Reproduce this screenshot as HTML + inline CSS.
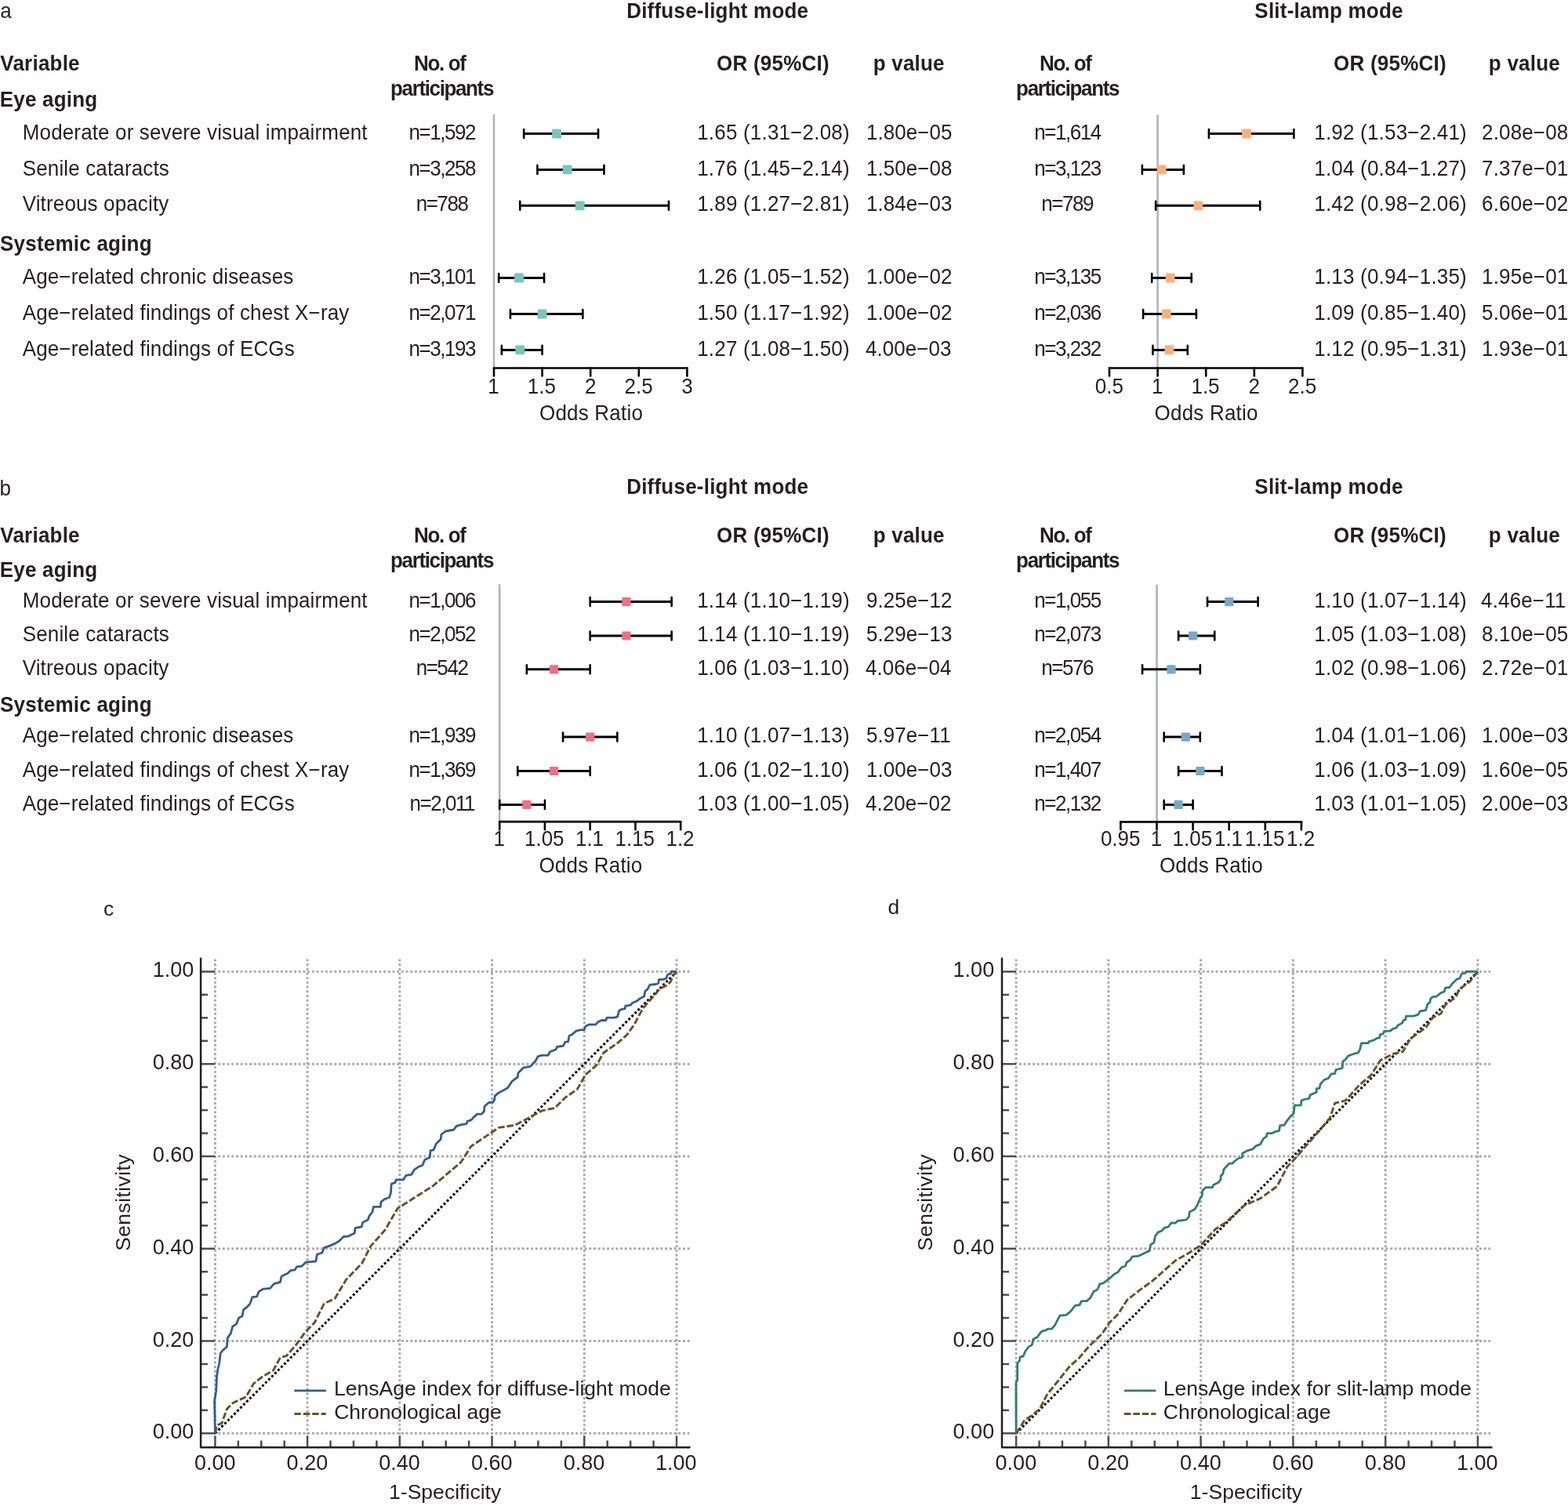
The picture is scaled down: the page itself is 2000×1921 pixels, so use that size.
<!DOCTYPE html>
<html><head><meta charset="utf-8"><title>Figure</title>
<style>html,body{margin:0;padding:0;background:#fff;}svg{display:block;}text{font-family:"Liberation Sans", Arial, Helvetica, sans-serif;fill:#231f20;}</style>
</head><body>
<svg width="2000" height="1921" viewBox="0 0 2000 1921">
<rect width="2000" height="1921" fill="#fff"/>
<text transform="translate(0.24,23.40) scale(0.9630,1)" font-size="27">a</text>
<text transform="translate(799.17,23.00) scale(0.9630,1)" font-size="27" font-weight="bold" letter-spacing="0.228">Diffuse-light mode</text>
<text transform="translate(1600.34,23.00) scale(0.9630,1)" font-size="27" font-weight="bold" letter-spacing="0.228">Slit-lamp mode</text>
<text transform="translate(0.30,90.00) scale(0.9630,1)" font-size="27" font-weight="bold" letter-spacing="0.228">Variable</text>
<text transform="translate(528.12,90.00) scale(0.9630,1)" font-size="27" font-weight="bold" letter-spacing="-1.438">No. of</text>
<text transform="translate(1326.12,90.00) scale(0.9630,1)" font-size="27" font-weight="bold" letter-spacing="-1.438">No. of</text>
<text transform="translate(498.07,121.70) scale(0.9630,1)" font-size="27" font-weight="bold" letter-spacing="-1.420">participants</text>
<text transform="translate(1296.12,121.70) scale(0.9630,1)" font-size="27" font-weight="bold" letter-spacing="-1.420">participants</text>
<text transform="translate(914.04,90.00) scale(0.9630,1)" font-size="27" font-weight="bold" letter-spacing="0.228">OR (95%CI)</text>
<text transform="translate(1113.67,90.00) scale(0.9630,1)" font-size="27" font-weight="bold" letter-spacing="0.228">p value</text>
<text transform="translate(1701.04,90.00) scale(0.9630,1)" font-size="27" font-weight="bold" letter-spacing="0.228">OR (95%CI)</text>
<text transform="translate(1898.87,90.00) scale(0.9630,1)" font-size="27" font-weight="bold" letter-spacing="0.228">p value</text>
<text transform="translate(-0.33,135.90) scale(0.9630,1)" font-size="27" font-weight="bold" letter-spacing="0.228">Eye aging</text>
<text transform="translate(0.04,320.10) scale(0.9630,1)" font-size="27" font-weight="bold" letter-spacing="0.228">Systemic aging</text>
<text transform="translate(28.77,177.60) scale(0.9630,1)" font-size="27" letter-spacing="0.145">Moderate or severe visual impairment</text>
<text transform="translate(521.48,177.60) scale(0.9630,1)" font-size="27" letter-spacing="-1.506">n=1,592</text>
<text transform="translate(1319.18,177.60) scale(0.9630,1)" font-size="27" letter-spacing="-1.506">n=1,614</text>
<text transform="translate(889.17,177.60) scale(0.9630,1)" font-size="27" letter-spacing="0.208">1.65 (1.31−2.08)</text>
<text transform="translate(1676.27,177.60) scale(0.9630,1)" font-size="27" letter-spacing="0.208">1.92 (1.53−2.41)</text>
<text transform="translate(1105.07,177.60) scale(0.9630,1)" font-size="27" letter-spacing="0.052">1.80e−05</text>
<text transform="translate(1890.04,177.60) scale(0.9630,1)" font-size="27" letter-spacing="0.156">2.08e−08</text>
<text transform="translate(28.74,223.50) scale(0.9630,1)" font-size="27" letter-spacing="0.145">Senile cataracts</text>
<text transform="translate(521.48,223.50) scale(0.9630,1)" font-size="27" letter-spacing="-1.506">n=3,258</text>
<text transform="translate(1319.18,223.50) scale(0.9630,1)" font-size="27" letter-spacing="-1.506">n=3,123</text>
<text transform="translate(889.17,223.50) scale(0.9630,1)" font-size="27" letter-spacing="0.208">1.76 (1.45−2.14)</text>
<text transform="translate(1676.27,223.50) scale(0.9630,1)" font-size="27" letter-spacing="0.208">1.04 (0.84−1.27)</text>
<text transform="translate(1105.07,223.50) scale(0.9630,1)" font-size="27" letter-spacing="0.052">1.50e−08</text>
<text transform="translate(1890.04,223.50) scale(0.9630,1)" font-size="27" letter-spacing="0.156">7.37e−01</text>
<text transform="translate(28.70,269.40) scale(0.9630,1)" font-size="27" letter-spacing="0.145">Vitreous opacity</text>
<text transform="translate(530.63,269.40) scale(0.9630,1)" font-size="27" letter-spacing="-1.506">n=788</text>
<text transform="translate(1328.33,269.40) scale(0.9630,1)" font-size="27" letter-spacing="-1.506">n=789</text>
<text transform="translate(889.17,269.40) scale(0.9630,1)" font-size="27" letter-spacing="0.208">1.89 (1.27−2.81)</text>
<text transform="translate(1676.27,269.40) scale(0.9630,1)" font-size="27" letter-spacing="0.208">1.42 (0.98−2.06)</text>
<text transform="translate(1105.07,269.40) scale(0.9630,1)" font-size="27" letter-spacing="0.052">1.84e−03</text>
<text transform="translate(1890.04,269.40) scale(0.9630,1)" font-size="27" letter-spacing="0.156">6.60e−02</text>
<text transform="translate(28.70,361.60) scale(0.9630,1)" font-size="27" letter-spacing="0.145">Age−related chronic diseases</text>
<text transform="translate(521.48,361.60) scale(0.9630,1)" font-size="27" letter-spacing="-1.506">n=3,101</text>
<text transform="translate(1319.18,361.60) scale(0.9630,1)" font-size="27" letter-spacing="-1.506">n=3,135</text>
<text transform="translate(889.17,361.60) scale(0.9630,1)" font-size="27" letter-spacing="0.208">1.26 (1.05−1.52)</text>
<text transform="translate(1676.27,361.60) scale(0.9630,1)" font-size="27" letter-spacing="0.208">1.13 (0.94−1.35)</text>
<text transform="translate(1105.07,361.60) scale(0.9630,1)" font-size="27" letter-spacing="0.052">1.00e−02</text>
<text transform="translate(1890.07,361.60) scale(0.9630,1)" font-size="27" letter-spacing="0.156">1.95e−01</text>
<text transform="translate(28.70,407.60) scale(0.9630,1)" font-size="27" letter-spacing="0.145">Age−related findings of chest X−ray</text>
<text transform="translate(521.48,407.60) scale(0.9630,1)" font-size="27" letter-spacing="-1.506">n=2,071</text>
<text transform="translate(1319.18,407.60) scale(0.9630,1)" font-size="27" letter-spacing="-1.506">n=2,036</text>
<text transform="translate(889.17,407.60) scale(0.9630,1)" font-size="27" letter-spacing="0.208">1.50 (1.17−1.92)</text>
<text transform="translate(1676.27,407.60) scale(0.9630,1)" font-size="27" letter-spacing="0.208">1.09 (0.85−1.40)</text>
<text transform="translate(1105.07,407.60) scale(0.9630,1)" font-size="27" letter-spacing="0.052">1.00e−02</text>
<text transform="translate(1890.04,407.60) scale(0.9630,1)" font-size="27" letter-spacing="0.156">5.06e−01</text>
<text transform="translate(28.70,453.50) scale(0.9630,1)" font-size="27" letter-spacing="0.145">Age−related findings of ECGs</text>
<text transform="translate(521.48,453.50) scale(0.9630,1)" font-size="27" letter-spacing="-1.506">n=3,193</text>
<text transform="translate(1319.18,453.50) scale(0.9630,1)" font-size="27" letter-spacing="-1.506">n=3,232</text>
<text transform="translate(889.17,453.50) scale(0.9630,1)" font-size="27" letter-spacing="0.208">1.27 (1.08−1.50)</text>
<text transform="translate(1676.27,453.50) scale(0.9630,1)" font-size="27" letter-spacing="0.208">1.12 (0.95−1.31)</text>
<text transform="translate(1104.04,453.50) scale(0.9630,1)" font-size="27" letter-spacing="0.052">4.00e−03</text>
<text transform="translate(1890.07,453.50) scale(0.9630,1)" font-size="27" letter-spacing="0.156">1.93e−01</text>
<line x1="630.00" y1="146.10" x2="630.00" y2="468.30" stroke="#b1b3b6" stroke-width="2.6" stroke-linecap="butt"/>
<line x1="630.00" y1="469.50" x2="876.40" y2="469.50" stroke="#000" stroke-width="2.7" stroke-linecap="round"/>
<line x1="630.00" y1="469.50" x2="630.00" y2="479.50" stroke="#000" stroke-width="2.6" stroke-linecap="round"/>
<text transform="translate(622.30,501.90) scale(0.9630,1)" font-size="27">1</text>
<line x1="691.60" y1="469.50" x2="691.60" y2="479.50" stroke="#000" stroke-width="2.6" stroke-linecap="round"/>
<text transform="translate(672.82,501.90) scale(0.9630,1)" font-size="27">1.5</text>
<line x1="753.20" y1="469.50" x2="753.20" y2="479.50" stroke="#000" stroke-width="2.6" stroke-linecap="round"/>
<text transform="translate(745.98,501.90) scale(0.9630,1)" font-size="27">2</text>
<line x1="814.80" y1="469.50" x2="814.80" y2="479.50" stroke="#000" stroke-width="2.6" stroke-linecap="round"/>
<text transform="translate(796.50,501.90) scale(0.9630,1)" font-size="27">2.5</text>
<line x1="876.40" y1="469.50" x2="876.40" y2="479.50" stroke="#000" stroke-width="2.6" stroke-linecap="round"/>
<text transform="translate(869.18,501.90) scale(0.9630,1)" font-size="27">3</text>
<text transform="translate(688.00,536.10) scale(0.9630,1)" font-size="27" letter-spacing="0.208">Odds Ratio</text>
<line x1="668.19" y1="170.50" x2="763.06" y2="170.50" stroke="#000" stroke-width="3" stroke-linecap="butt"/>
<line x1="668.19" y1="165.00" x2="668.19" y2="176.00" stroke="#000" stroke-width="2.6" stroke-linecap="round"/>
<line x1="763.06" y1="165.00" x2="763.06" y2="176.00" stroke="#000" stroke-width="2.6" stroke-linecap="round"/>
<rect x="704.18" y="164.60" width="11.8" height="11.8" rx="1.2" fill="#79c6c0"/>
<line x1="685.44" y1="216.40" x2="770.45" y2="216.40" stroke="#000" stroke-width="3" stroke-linecap="butt"/>
<line x1="685.44" y1="210.90" x2="685.44" y2="221.90" stroke="#000" stroke-width="2.6" stroke-linecap="round"/>
<line x1="770.45" y1="210.90" x2="770.45" y2="221.90" stroke="#000" stroke-width="2.6" stroke-linecap="round"/>
<rect x="717.73" y="210.50" width="11.8" height="11.8" rx="1.2" fill="#79c6c0"/>
<line x1="663.26" y1="262.30" x2="852.99" y2="262.30" stroke="#000" stroke-width="3" stroke-linecap="butt"/>
<line x1="663.26" y1="256.80" x2="663.26" y2="267.80" stroke="#000" stroke-width="2.6" stroke-linecap="round"/>
<line x1="852.99" y1="256.80" x2="852.99" y2="267.80" stroke="#000" stroke-width="2.6" stroke-linecap="round"/>
<rect x="733.75" y="256.40" width="11.8" height="11.8" rx="1.2" fill="#79c6c0"/>
<line x1="636.16" y1="354.50" x2="694.06" y2="354.50" stroke="#000" stroke-width="3" stroke-linecap="butt"/>
<line x1="636.16" y1="349.00" x2="636.16" y2="360.00" stroke="#000" stroke-width="2.6" stroke-linecap="round"/>
<line x1="694.06" y1="349.00" x2="694.06" y2="360.00" stroke="#000" stroke-width="2.6" stroke-linecap="round"/>
<rect x="656.13" y="348.60" width="11.8" height="11.8" rx="1.2" fill="#79c6c0"/>
<line x1="650.94" y1="400.50" x2="743.34" y2="400.50" stroke="#000" stroke-width="3" stroke-linecap="butt"/>
<line x1="650.94" y1="395.00" x2="650.94" y2="406.00" stroke="#000" stroke-width="2.6" stroke-linecap="round"/>
<line x1="743.34" y1="395.00" x2="743.34" y2="406.00" stroke="#000" stroke-width="2.6" stroke-linecap="round"/>
<rect x="685.70" y="394.60" width="11.8" height="11.8" rx="1.2" fill="#79c6c0"/>
<line x1="639.86" y1="446.40" x2="691.60" y2="446.40" stroke="#000" stroke-width="3" stroke-linecap="butt"/>
<line x1="639.86" y1="440.90" x2="639.86" y2="451.90" stroke="#000" stroke-width="2.6" stroke-linecap="round"/>
<line x1="691.60" y1="440.90" x2="691.60" y2="451.90" stroke="#000" stroke-width="2.6" stroke-linecap="round"/>
<rect x="657.36" y="440.50" width="11.8" height="11.8" rx="1.2" fill="#79c6c0"/>
<line x1="1476.60" y1="146.30" x2="1476.60" y2="468.30" stroke="#b1b3b6" stroke-width="2.6" stroke-linecap="butt"/>
<line x1="1415.00" y1="469.50" x2="1661.40" y2="469.50" stroke="#000" stroke-width="2.7" stroke-linecap="round"/>
<line x1="1415.00" y1="469.50" x2="1415.00" y2="479.50" stroke="#000" stroke-width="2.6" stroke-linecap="round"/>
<text transform="translate(1396.70,501.80) scale(0.9630,1)" font-size="27">0.5</text>
<line x1="1476.60" y1="469.50" x2="1476.60" y2="479.50" stroke="#000" stroke-width="2.6" stroke-linecap="round"/>
<text transform="translate(1468.90,501.80) scale(0.9630,1)" font-size="27">1</text>
<line x1="1538.20" y1="469.50" x2="1538.20" y2="479.50" stroke="#000" stroke-width="2.6" stroke-linecap="round"/>
<text transform="translate(1519.42,501.80) scale(0.9630,1)" font-size="27">1.5</text>
<line x1="1599.80" y1="469.50" x2="1599.80" y2="479.50" stroke="#000" stroke-width="2.6" stroke-linecap="round"/>
<text transform="translate(1592.58,501.80) scale(0.9630,1)" font-size="27">2</text>
<line x1="1661.40" y1="469.50" x2="1661.40" y2="479.50" stroke="#000" stroke-width="2.6" stroke-linecap="round"/>
<text transform="translate(1643.10,501.80) scale(0.9630,1)" font-size="27">2.5</text>
<text transform="translate(1472.60,536.10) scale(0.9630,1)" font-size="27" letter-spacing="0.208">Odds Ratio</text>
<line x1="1541.90" y1="170.50" x2="1650.31" y2="170.50" stroke="#000" stroke-width="3" stroke-linecap="butt"/>
<line x1="1541.90" y1="165.00" x2="1541.90" y2="176.00" stroke="#000" stroke-width="2.6" stroke-linecap="round"/>
<line x1="1650.31" y1="165.00" x2="1650.31" y2="176.00" stroke="#000" stroke-width="2.6" stroke-linecap="round"/>
<rect x="1584.04" y="164.60" width="11.8" height="11.8" rx="1.2" fill="#f9b07b"/>
<line x1="1456.89" y1="216.40" x2="1509.86" y2="216.40" stroke="#000" stroke-width="3" stroke-linecap="butt"/>
<line x1="1456.89" y1="210.90" x2="1456.89" y2="221.90" stroke="#000" stroke-width="2.6" stroke-linecap="round"/>
<line x1="1509.86" y1="210.90" x2="1509.86" y2="221.90" stroke="#000" stroke-width="2.6" stroke-linecap="round"/>
<rect x="1475.63" y="210.50" width="11.8" height="11.8" rx="1.2" fill="#f9b07b"/>
<line x1="1474.14" y1="262.30" x2="1607.19" y2="262.30" stroke="#000" stroke-width="3" stroke-linecap="butt"/>
<line x1="1474.14" y1="256.80" x2="1474.14" y2="267.80" stroke="#000" stroke-width="2.6" stroke-linecap="round"/>
<line x1="1607.19" y1="256.80" x2="1607.19" y2="267.80" stroke="#000" stroke-width="2.6" stroke-linecap="round"/>
<rect x="1522.44" y="256.40" width="11.8" height="11.8" rx="1.2" fill="#f9b07b"/>
<line x1="1469.21" y1="354.50" x2="1519.72" y2="354.50" stroke="#000" stroke-width="3" stroke-linecap="butt"/>
<line x1="1469.21" y1="349.00" x2="1469.21" y2="360.00" stroke="#000" stroke-width="2.6" stroke-linecap="round"/>
<line x1="1519.72" y1="349.00" x2="1519.72" y2="360.00" stroke="#000" stroke-width="2.6" stroke-linecap="round"/>
<rect x="1486.72" y="348.60" width="11.8" height="11.8" rx="1.2" fill="#f9b07b"/>
<line x1="1458.12" y1="400.50" x2="1525.88" y2="400.50" stroke="#000" stroke-width="3" stroke-linecap="butt"/>
<line x1="1458.12" y1="395.00" x2="1458.12" y2="406.00" stroke="#000" stroke-width="2.6" stroke-linecap="round"/>
<line x1="1525.88" y1="395.00" x2="1525.88" y2="406.00" stroke="#000" stroke-width="2.6" stroke-linecap="round"/>
<rect x="1481.79" y="394.60" width="11.8" height="11.8" rx="1.2" fill="#f9b07b"/>
<line x1="1470.44" y1="446.40" x2="1514.79" y2="446.40" stroke="#000" stroke-width="3" stroke-linecap="butt"/>
<line x1="1470.44" y1="440.90" x2="1470.44" y2="451.90" stroke="#000" stroke-width="2.6" stroke-linecap="round"/>
<line x1="1514.79" y1="440.90" x2="1514.79" y2="451.90" stroke="#000" stroke-width="2.6" stroke-linecap="round"/>
<rect x="1485.48" y="440.50" width="11.8" height="11.8" rx="1.2" fill="#f9b07b"/>
<text transform="translate(-0.43,631.60) scale(0.9630,1)" font-size="27">b</text>
<text transform="translate(799.17,630.30) scale(0.9630,1)" font-size="27" font-weight="bold" letter-spacing="0.228">Diffuse-light mode</text>
<text transform="translate(1600.34,630.30) scale(0.9630,1)" font-size="27" font-weight="bold" letter-spacing="0.228">Slit-lamp mode</text>
<text transform="translate(0.30,692.40) scale(0.9630,1)" font-size="27" font-weight="bold" letter-spacing="0.228">Variable</text>
<text transform="translate(528.12,692.40) scale(0.9630,1)" font-size="27" font-weight="bold" letter-spacing="-1.438">No. of</text>
<text transform="translate(1326.12,692.40) scale(0.9630,1)" font-size="27" font-weight="bold" letter-spacing="-1.438">No. of</text>
<text transform="translate(498.07,723.70) scale(0.9630,1)" font-size="27" font-weight="bold" letter-spacing="-1.420">participants</text>
<text transform="translate(1296.12,723.70) scale(0.9630,1)" font-size="27" font-weight="bold" letter-spacing="-1.420">participants</text>
<text transform="translate(914.04,692.40) scale(0.9630,1)" font-size="27" font-weight="bold" letter-spacing="0.228">OR (95%CI)</text>
<text transform="translate(1113.67,692.40) scale(0.9630,1)" font-size="27" font-weight="bold" letter-spacing="0.228">p value</text>
<text transform="translate(1701.04,692.40) scale(0.9630,1)" font-size="27" font-weight="bold" letter-spacing="0.228">OR (95%CI)</text>
<text transform="translate(1898.87,692.40) scale(0.9630,1)" font-size="27" font-weight="bold" letter-spacing="0.228">p value</text>
<text transform="translate(-0.33,735.70) scale(0.9630,1)" font-size="27" font-weight="bold" letter-spacing="0.228">Eye aging</text>
<text transform="translate(0.04,908.20) scale(0.9630,1)" font-size="27" font-weight="bold" letter-spacing="0.228">Systemic aging</text>
<text transform="translate(28.77,774.70) scale(0.9630,1)" font-size="27" letter-spacing="0.145">Moderate or severe visual impairment</text>
<text transform="translate(521.48,774.70) scale(0.9630,1)" font-size="27" letter-spacing="-1.506">n=1,006</text>
<text transform="translate(1319.18,774.70) scale(0.9630,1)" font-size="27" letter-spacing="-1.506">n=1,055</text>
<text transform="translate(889.17,774.70) scale(0.9630,1)" font-size="27" letter-spacing="0.208">1.14 (1.10−1.19)</text>
<text transform="translate(1676.27,774.70) scale(0.9630,1)" font-size="27" letter-spacing="0.208">1.10 (1.07−1.14)</text>
<text transform="translate(1105.04,774.70) scale(0.9630,1)" font-size="27" letter-spacing="0.052">9.25e−12</text>
<text transform="translate(1889.04,774.70) scale(0.9630,1)" font-size="27" letter-spacing="0.156">4.46e−11</text>
<text transform="translate(28.74,818.10) scale(0.9630,1)" font-size="27" letter-spacing="0.145">Senile cataracts</text>
<text transform="translate(521.48,818.10) scale(0.9630,1)" font-size="27" letter-spacing="-1.506">n=2,052</text>
<text transform="translate(1319.18,818.10) scale(0.9630,1)" font-size="27" letter-spacing="-1.506">n=2,073</text>
<text transform="translate(889.17,818.10) scale(0.9630,1)" font-size="27" letter-spacing="0.208">1.14 (1.10−1.19)</text>
<text transform="translate(1676.27,818.10) scale(0.9630,1)" font-size="27" letter-spacing="0.208">1.05 (1.03−1.08)</text>
<text transform="translate(1105.04,818.10) scale(0.9630,1)" font-size="27" letter-spacing="0.052">5.29e−13</text>
<text transform="translate(1890.04,818.10) scale(0.9630,1)" font-size="27" letter-spacing="0.156">8.10e−05</text>
<text transform="translate(28.70,860.90) scale(0.9630,1)" font-size="27" letter-spacing="0.145">Vitreous opacity</text>
<text transform="translate(530.63,860.90) scale(0.9630,1)" font-size="27" letter-spacing="-1.506">n=542</text>
<text transform="translate(1328.33,860.90) scale(0.9630,1)" font-size="27" letter-spacing="-1.506">n=576</text>
<text transform="translate(889.17,860.90) scale(0.9630,1)" font-size="27" letter-spacing="0.208">1.06 (1.03−1.10)</text>
<text transform="translate(1676.27,860.90) scale(0.9630,1)" font-size="27" letter-spacing="0.208">1.02 (0.98−1.06)</text>
<text transform="translate(1104.04,860.90) scale(0.9630,1)" font-size="27" letter-spacing="0.052">4.06e−04</text>
<text transform="translate(1890.04,860.90) scale(0.9630,1)" font-size="27" letter-spacing="0.156">2.72e−01</text>
<text transform="translate(28.70,947.20) scale(0.9630,1)" font-size="27" letter-spacing="0.145">Age−related chronic diseases</text>
<text transform="translate(521.48,947.20) scale(0.9630,1)" font-size="27" letter-spacing="-1.506">n=1,939</text>
<text transform="translate(1319.18,947.20) scale(0.9630,1)" font-size="27" letter-spacing="-1.506">n=2,054</text>
<text transform="translate(889.17,947.20) scale(0.9630,1)" font-size="27" letter-spacing="0.208">1.10 (1.07−1.13)</text>
<text transform="translate(1676.27,947.20) scale(0.9630,1)" font-size="27" letter-spacing="0.208">1.04 (1.01−1.06)</text>
<text transform="translate(1105.04,947.20) scale(0.9630,1)" font-size="27" letter-spacing="0.052">5.97e−11</text>
<text transform="translate(1890.07,947.20) scale(0.9630,1)" font-size="27" letter-spacing="0.156">1.00e−03</text>
<text transform="translate(28.70,990.60) scale(0.9630,1)" font-size="27" letter-spacing="0.145">Age−related findings of chest X−ray</text>
<text transform="translate(521.48,990.60) scale(0.9630,1)" font-size="27" letter-spacing="-1.506">n=1,369</text>
<text transform="translate(1319.18,990.60) scale(0.9630,1)" font-size="27" letter-spacing="-1.506">n=1,407</text>
<text transform="translate(889.17,990.60) scale(0.9630,1)" font-size="27" letter-spacing="0.208">1.06 (1.02−1.10)</text>
<text transform="translate(1676.27,990.60) scale(0.9630,1)" font-size="27" letter-spacing="0.208">1.06 (1.03−1.09)</text>
<text transform="translate(1105.07,990.60) scale(0.9630,1)" font-size="27" letter-spacing="0.052">1.00e−03</text>
<text transform="translate(1890.07,990.60) scale(0.9630,1)" font-size="27" letter-spacing="0.156">1.60e−05</text>
<text transform="translate(28.70,1033.50) scale(0.9630,1)" font-size="27" letter-spacing="0.145">Age−related findings of ECGs</text>
<text transform="translate(522.45,1033.50) scale(0.9630,1)" font-size="27" letter-spacing="-1.506">n=2,011</text>
<text transform="translate(1319.18,1033.50) scale(0.9630,1)" font-size="27" letter-spacing="-1.506">n=2,132</text>
<text transform="translate(889.17,1033.50) scale(0.9630,1)" font-size="27" letter-spacing="0.208">1.03 (1.00−1.05)</text>
<text transform="translate(1676.27,1033.50) scale(0.9630,1)" font-size="27" letter-spacing="0.208">1.03 (1.01−1.05)</text>
<text transform="translate(1104.04,1033.50) scale(0.9630,1)" font-size="27" letter-spacing="0.052">4.20e−02</text>
<text transform="translate(1890.04,1033.50) scale(0.9630,1)" font-size="27" letter-spacing="0.156">2.00e−03</text>
<line x1="637.20" y1="745.30" x2="637.20" y2="1047.00" stroke="#b1b3b6" stroke-width="2.6" stroke-linecap="butt"/>
<line x1="637.20" y1="1048.20" x2="868.20" y2="1048.20" stroke="#000" stroke-width="2.7" stroke-linecap="round"/>
<line x1="637.20" y1="1048.20" x2="637.20" y2="1058.20" stroke="#000" stroke-width="2.6" stroke-linecap="round"/>
<text transform="translate(629.50,1078.70) scale(0.9630,1)" font-size="27">1</text>
<line x1="694.95" y1="1048.20" x2="694.95" y2="1058.20" stroke="#000" stroke-width="2.6" stroke-linecap="round"/>
<text transform="translate(668.95,1078.70) scale(0.9630,1)" font-size="27">1.05</text>
<line x1="752.70" y1="1048.20" x2="752.70" y2="1058.20" stroke="#000" stroke-width="2.6" stroke-linecap="round"/>
<text transform="translate(733.92,1078.70) scale(0.9630,1)" font-size="27">1.1</text>
<line x1="810.45" y1="1048.20" x2="810.45" y2="1058.20" stroke="#000" stroke-width="2.6" stroke-linecap="round"/>
<text transform="translate(784.45,1078.70) scale(0.9630,1)" font-size="27">1.15</text>
<line x1="868.20" y1="1048.20" x2="868.20" y2="1058.20" stroke="#000" stroke-width="2.6" stroke-linecap="round"/>
<text transform="translate(849.42,1078.70) scale(0.9630,1)" font-size="27">1.2</text>
<text transform="translate(687.40,1113.10) scale(0.9630,1)" font-size="27" letter-spacing="0.208">Odds Ratio</text>
<line x1="752.70" y1="767.60" x2="856.65" y2="767.60" stroke="#000" stroke-width="3" stroke-linecap="butt"/>
<line x1="752.70" y1="762.10" x2="752.70" y2="773.10" stroke="#000" stroke-width="2.6" stroke-linecap="round"/>
<line x1="856.65" y1="762.10" x2="856.65" y2="773.10" stroke="#000" stroke-width="2.6" stroke-linecap="round"/>
<rect x="793.30" y="762.00" width="11.2" height="11.2" rx="1.2" fill="#f07080"/>
<line x1="752.70" y1="811.00" x2="856.65" y2="811.00" stroke="#000" stroke-width="3" stroke-linecap="butt"/>
<line x1="752.70" y1="805.50" x2="752.70" y2="816.50" stroke="#000" stroke-width="2.6" stroke-linecap="round"/>
<line x1="856.65" y1="805.50" x2="856.65" y2="816.50" stroke="#000" stroke-width="2.6" stroke-linecap="round"/>
<rect x="793.30" y="805.40" width="11.2" height="11.2" rx="1.2" fill="#f07080"/>
<line x1="671.85" y1="853.80" x2="752.70" y2="853.80" stroke="#000" stroke-width="3" stroke-linecap="butt"/>
<line x1="671.85" y1="848.30" x2="671.85" y2="859.30" stroke="#000" stroke-width="2.6" stroke-linecap="round"/>
<line x1="752.70" y1="848.30" x2="752.70" y2="859.30" stroke="#000" stroke-width="2.6" stroke-linecap="round"/>
<rect x="700.90" y="848.20" width="11.2" height="11.2" rx="1.2" fill="#f07080"/>
<line x1="718.05" y1="940.10" x2="787.35" y2="940.10" stroke="#000" stroke-width="3" stroke-linecap="butt"/>
<line x1="718.05" y1="934.60" x2="718.05" y2="945.60" stroke="#000" stroke-width="2.6" stroke-linecap="round"/>
<line x1="787.35" y1="934.60" x2="787.35" y2="945.60" stroke="#000" stroke-width="2.6" stroke-linecap="round"/>
<rect x="747.10" y="934.50" width="11.2" height="11.2" rx="1.2" fill="#f07080"/>
<line x1="660.30" y1="983.50" x2="752.70" y2="983.50" stroke="#000" stroke-width="3" stroke-linecap="butt"/>
<line x1="660.30" y1="978.00" x2="660.30" y2="989.00" stroke="#000" stroke-width="2.6" stroke-linecap="round"/>
<line x1="752.70" y1="978.00" x2="752.70" y2="989.00" stroke="#000" stroke-width="2.6" stroke-linecap="round"/>
<rect x="700.90" y="977.90" width="11.2" height="11.2" rx="1.2" fill="#f07080"/>
<line x1="637.20" y1="1026.40" x2="694.95" y2="1026.40" stroke="#000" stroke-width="3" stroke-linecap="butt"/>
<line x1="637.20" y1="1020.90" x2="637.20" y2="1031.90" stroke="#000" stroke-width="2.6" stroke-linecap="round"/>
<line x1="694.95" y1="1020.90" x2="694.95" y2="1031.90" stroke="#000" stroke-width="2.6" stroke-linecap="round"/>
<rect x="666.25" y="1020.80" width="11.2" height="11.2" rx="1.2" fill="#f07080"/>
<line x1="1475.50" y1="745.70" x2="1475.50" y2="1047.10" stroke="#b1b3b6" stroke-width="2.6" stroke-linecap="butt"/>
<line x1="1429.40" y1="1048.30" x2="1659.90" y2="1048.30" stroke="#000" stroke-width="2.7" stroke-linecap="round"/>
<line x1="1429.40" y1="1048.30" x2="1429.40" y2="1058.30" stroke="#000" stroke-width="2.6" stroke-linecap="round"/>
<text transform="translate(1403.88,1078.70) scale(0.9630,1)" font-size="27">0.95</text>
<line x1="1475.50" y1="1048.30" x2="1475.50" y2="1058.30" stroke="#000" stroke-width="2.6" stroke-linecap="round"/>
<text transform="translate(1467.80,1078.70) scale(0.9630,1)" font-size="27">1</text>
<line x1="1521.60" y1="1048.30" x2="1521.60" y2="1058.30" stroke="#000" stroke-width="2.6" stroke-linecap="round"/>
<text transform="translate(1495.60,1078.70) scale(0.9630,1)" font-size="27">1.05</text>
<line x1="1567.70" y1="1048.30" x2="1567.70" y2="1058.30" stroke="#000" stroke-width="2.6" stroke-linecap="round"/>
<text transform="translate(1548.92,1078.70) scale(0.9630,1)" font-size="27">1.1</text>
<line x1="1613.80" y1="1048.30" x2="1613.80" y2="1058.30" stroke="#000" stroke-width="2.6" stroke-linecap="round"/>
<text transform="translate(1587.80,1078.70) scale(0.9630,1)" font-size="27">1.15</text>
<line x1="1659.90" y1="1048.30" x2="1659.90" y2="1058.30" stroke="#000" stroke-width="2.6" stroke-linecap="round"/>
<text transform="translate(1641.12,1078.70) scale(0.9630,1)" font-size="27">1.2</text>
<text transform="translate(1478.95,1113.10) scale(0.9630,1)" font-size="27" letter-spacing="0.208">Odds Ratio</text>
<line x1="1540.04" y1="767.60" x2="1604.58" y2="767.60" stroke="#000" stroke-width="3" stroke-linecap="butt"/>
<line x1="1540.04" y1="762.10" x2="1540.04" y2="773.10" stroke="#000" stroke-width="2.6" stroke-linecap="round"/>
<line x1="1604.58" y1="762.10" x2="1604.58" y2="773.10" stroke="#000" stroke-width="2.6" stroke-linecap="round"/>
<rect x="1562.10" y="762.00" width="11.2" height="11.2" rx="1.2" fill="#78a8c8"/>
<line x1="1503.16" y1="811.00" x2="1549.26" y2="811.00" stroke="#000" stroke-width="3" stroke-linecap="butt"/>
<line x1="1503.16" y1="805.50" x2="1503.16" y2="816.50" stroke="#000" stroke-width="2.6" stroke-linecap="round"/>
<line x1="1549.26" y1="805.50" x2="1549.26" y2="816.50" stroke="#000" stroke-width="2.6" stroke-linecap="round"/>
<rect x="1516.00" y="805.40" width="11.2" height="11.2" rx="1.2" fill="#78a8c8"/>
<line x1="1457.06" y1="853.80" x2="1530.82" y2="853.80" stroke="#000" stroke-width="3" stroke-linecap="butt"/>
<line x1="1457.06" y1="848.30" x2="1457.06" y2="859.30" stroke="#000" stroke-width="2.6" stroke-linecap="round"/>
<line x1="1530.82" y1="848.30" x2="1530.82" y2="859.30" stroke="#000" stroke-width="2.6" stroke-linecap="round"/>
<rect x="1488.34" y="848.20" width="11.2" height="11.2" rx="1.2" fill="#78a8c8"/>
<line x1="1484.72" y1="940.10" x2="1530.82" y2="940.10" stroke="#000" stroke-width="3" stroke-linecap="butt"/>
<line x1="1484.72" y1="934.60" x2="1484.72" y2="945.60" stroke="#000" stroke-width="2.6" stroke-linecap="round"/>
<line x1="1530.82" y1="934.60" x2="1530.82" y2="945.60" stroke="#000" stroke-width="2.6" stroke-linecap="round"/>
<rect x="1506.78" y="934.50" width="11.2" height="11.2" rx="1.2" fill="#78a8c8"/>
<line x1="1503.16" y1="983.50" x2="1558.48" y2="983.50" stroke="#000" stroke-width="3" stroke-linecap="butt"/>
<line x1="1503.16" y1="978.00" x2="1503.16" y2="989.00" stroke="#000" stroke-width="2.6" stroke-linecap="round"/>
<line x1="1558.48" y1="978.00" x2="1558.48" y2="989.00" stroke="#000" stroke-width="2.6" stroke-linecap="round"/>
<rect x="1525.22" y="977.90" width="11.2" height="11.2" rx="1.2" fill="#78a8c8"/>
<line x1="1484.72" y1="1026.40" x2="1521.60" y2="1026.40" stroke="#000" stroke-width="3" stroke-linecap="butt"/>
<line x1="1484.72" y1="1020.90" x2="1484.72" y2="1031.90" stroke="#000" stroke-width="2.6" stroke-linecap="round"/>
<line x1="1521.60" y1="1020.90" x2="1521.60" y2="1031.90" stroke="#000" stroke-width="2.6" stroke-linecap="round"/>
<rect x="1497.56" y="1020.80" width="11.2" height="11.2" rx="1.2" fill="#78a8c8"/>
<text x="131.90" y="1168.30" font-size="26.5">c</text>
<line x1="274.40" y1="1223.40" x2="274.40" y2="1829.80" stroke="#a6a8ab" stroke-width="2.9" stroke-dasharray="2.9 2.8"/>
<line x1="278.20" y1="1828.30" x2="879.60" y2="1828.30" stroke="#a6a8ab" stroke-width="2.9" stroke-dasharray="2.9 2.8"/>
<line x1="392.12" y1="1223.40" x2="392.12" y2="1829.80" stroke="#a6a8ab" stroke-width="2.9" stroke-dasharray="2.9 2.8"/>
<line x1="278.20" y1="1710.52" x2="879.60" y2="1710.52" stroke="#a6a8ab" stroke-width="2.9" stroke-dasharray="2.9 2.8"/>
<line x1="509.84" y1="1223.40" x2="509.84" y2="1829.80" stroke="#a6a8ab" stroke-width="2.9" stroke-dasharray="2.9 2.8"/>
<line x1="278.20" y1="1592.74" x2="879.60" y2="1592.74" stroke="#a6a8ab" stroke-width="2.9" stroke-dasharray="2.9 2.8"/>
<line x1="627.56" y1="1223.40" x2="627.56" y2="1829.80" stroke="#a6a8ab" stroke-width="2.9" stroke-dasharray="2.9 2.8"/>
<line x1="278.20" y1="1474.96" x2="879.60" y2="1474.96" stroke="#a6a8ab" stroke-width="2.9" stroke-dasharray="2.9 2.8"/>
<line x1="745.28" y1="1223.40" x2="745.28" y2="1829.80" stroke="#a6a8ab" stroke-width="2.9" stroke-dasharray="2.9 2.8"/>
<line x1="278.20" y1="1357.18" x2="879.60" y2="1357.18" stroke="#a6a8ab" stroke-width="2.9" stroke-dasharray="2.9 2.8"/>
<line x1="863.00" y1="1223.40" x2="863.00" y2="1829.80" stroke="#a6a8ab" stroke-width="2.9" stroke-dasharray="2.9 2.8"/>
<line x1="278.20" y1="1239.40" x2="879.60" y2="1239.40" stroke="#a6a8ab" stroke-width="2.9" stroke-dasharray="2.9 2.8"/>
<line x1="256.10" y1="1828.30" x2="274.40" y2="1828.30" stroke="#4d4d4f" stroke-width="2.5" stroke-linecap="butt"/>
<line x1="274.40" y1="1846.30" x2="274.40" y2="1831.30" stroke="#4d4d4f" stroke-width="2.5" stroke-linecap="butt"/>
<line x1="256.10" y1="1798.86" x2="265.10" y2="1798.86" stroke="#4d4d4f" stroke-width="2.5" stroke-linecap="butt"/>
<line x1="303.83" y1="1846.30" x2="303.83" y2="1837.50" stroke="#4d4d4f" stroke-width="2.5" stroke-linecap="butt"/>
<line x1="256.10" y1="1769.41" x2="265.10" y2="1769.41" stroke="#4d4d4f" stroke-width="2.5" stroke-linecap="butt"/>
<line x1="333.26" y1="1846.30" x2="333.26" y2="1837.50" stroke="#4d4d4f" stroke-width="2.5" stroke-linecap="butt"/>
<line x1="256.10" y1="1739.96" x2="265.10" y2="1739.96" stroke="#4d4d4f" stroke-width="2.5" stroke-linecap="butt"/>
<line x1="362.69" y1="1846.30" x2="362.69" y2="1837.50" stroke="#4d4d4f" stroke-width="2.5" stroke-linecap="butt"/>
<line x1="256.10" y1="1710.52" x2="274.40" y2="1710.52" stroke="#4d4d4f" stroke-width="2.5" stroke-linecap="butt"/>
<line x1="392.12" y1="1846.30" x2="392.12" y2="1831.30" stroke="#4d4d4f" stroke-width="2.5" stroke-linecap="butt"/>
<line x1="256.10" y1="1681.08" x2="265.10" y2="1681.08" stroke="#4d4d4f" stroke-width="2.5" stroke-linecap="butt"/>
<line x1="421.55" y1="1846.30" x2="421.55" y2="1837.50" stroke="#4d4d4f" stroke-width="2.5" stroke-linecap="butt"/>
<line x1="256.10" y1="1651.63" x2="265.10" y2="1651.63" stroke="#4d4d4f" stroke-width="2.5" stroke-linecap="butt"/>
<line x1="450.98" y1="1846.30" x2="450.98" y2="1837.50" stroke="#4d4d4f" stroke-width="2.5" stroke-linecap="butt"/>
<line x1="256.10" y1="1622.18" x2="265.10" y2="1622.18" stroke="#4d4d4f" stroke-width="2.5" stroke-linecap="butt"/>
<line x1="480.41" y1="1846.30" x2="480.41" y2="1837.50" stroke="#4d4d4f" stroke-width="2.5" stroke-linecap="butt"/>
<line x1="256.10" y1="1592.74" x2="274.40" y2="1592.74" stroke="#4d4d4f" stroke-width="2.5" stroke-linecap="butt"/>
<line x1="509.84" y1="1846.30" x2="509.84" y2="1831.30" stroke="#4d4d4f" stroke-width="2.5" stroke-linecap="butt"/>
<line x1="256.10" y1="1563.30" x2="265.10" y2="1563.30" stroke="#4d4d4f" stroke-width="2.5" stroke-linecap="butt"/>
<line x1="539.27" y1="1846.30" x2="539.27" y2="1837.50" stroke="#4d4d4f" stroke-width="2.5" stroke-linecap="butt"/>
<line x1="256.10" y1="1533.85" x2="265.10" y2="1533.85" stroke="#4d4d4f" stroke-width="2.5" stroke-linecap="butt"/>
<line x1="568.70" y1="1846.30" x2="568.70" y2="1837.50" stroke="#4d4d4f" stroke-width="2.5" stroke-linecap="butt"/>
<line x1="256.10" y1="1504.40" x2="265.10" y2="1504.40" stroke="#4d4d4f" stroke-width="2.5" stroke-linecap="butt"/>
<line x1="598.13" y1="1846.30" x2="598.13" y2="1837.50" stroke="#4d4d4f" stroke-width="2.5" stroke-linecap="butt"/>
<line x1="256.10" y1="1474.96" x2="274.40" y2="1474.96" stroke="#4d4d4f" stroke-width="2.5" stroke-linecap="butt"/>
<line x1="627.56" y1="1846.30" x2="627.56" y2="1831.30" stroke="#4d4d4f" stroke-width="2.5" stroke-linecap="butt"/>
<line x1="256.10" y1="1445.52" x2="265.10" y2="1445.52" stroke="#4d4d4f" stroke-width="2.5" stroke-linecap="butt"/>
<line x1="656.99" y1="1846.30" x2="656.99" y2="1837.50" stroke="#4d4d4f" stroke-width="2.5" stroke-linecap="butt"/>
<line x1="256.10" y1="1416.07" x2="265.10" y2="1416.07" stroke="#4d4d4f" stroke-width="2.5" stroke-linecap="butt"/>
<line x1="686.42" y1="1846.30" x2="686.42" y2="1837.50" stroke="#4d4d4f" stroke-width="2.5" stroke-linecap="butt"/>
<line x1="256.10" y1="1386.62" x2="265.10" y2="1386.62" stroke="#4d4d4f" stroke-width="2.5" stroke-linecap="butt"/>
<line x1="715.85" y1="1846.30" x2="715.85" y2="1837.50" stroke="#4d4d4f" stroke-width="2.5" stroke-linecap="butt"/>
<line x1="256.10" y1="1357.18" x2="274.40" y2="1357.18" stroke="#4d4d4f" stroke-width="2.5" stroke-linecap="butt"/>
<line x1="745.28" y1="1846.30" x2="745.28" y2="1831.30" stroke="#4d4d4f" stroke-width="2.5" stroke-linecap="butt"/>
<line x1="256.10" y1="1327.74" x2="265.10" y2="1327.74" stroke="#4d4d4f" stroke-width="2.5" stroke-linecap="butt"/>
<line x1="774.71" y1="1846.30" x2="774.71" y2="1837.50" stroke="#4d4d4f" stroke-width="2.5" stroke-linecap="butt"/>
<line x1="256.10" y1="1298.29" x2="265.10" y2="1298.29" stroke="#4d4d4f" stroke-width="2.5" stroke-linecap="butt"/>
<line x1="804.14" y1="1846.30" x2="804.14" y2="1837.50" stroke="#4d4d4f" stroke-width="2.5" stroke-linecap="butt"/>
<line x1="256.10" y1="1268.85" x2="265.10" y2="1268.85" stroke="#4d4d4f" stroke-width="2.5" stroke-linecap="butt"/>
<line x1="833.57" y1="1846.30" x2="833.57" y2="1837.50" stroke="#4d4d4f" stroke-width="2.5" stroke-linecap="butt"/>
<line x1="256.10" y1="1239.40" x2="274.40" y2="1239.40" stroke="#4d4d4f" stroke-width="2.5" stroke-linecap="butt"/>
<line x1="863.00" y1="1846.30" x2="863.00" y2="1831.30" stroke="#4d4d4f" stroke-width="2.5" stroke-linecap="butt"/>
<path d="M256.10,1221.40 L256.10,1846.30 L880.60,1846.30" fill="none" stroke="#231f20" stroke-width="2.5" stroke-linejoin="round"/>
<text x="194.80" y="1835.30" font-size="27">0.00</text>
<text x="247.90" y="1874.80" font-size="27">0.00</text>
<text x="194.80" y="1717.52" font-size="27">0.20</text>
<text x="365.62" y="1874.80" font-size="27">0.20</text>
<text x="194.80" y="1599.74" font-size="27">0.40</text>
<text x="483.34" y="1874.80" font-size="27">0.40</text>
<text x="194.80" y="1481.96" font-size="27">0.60</text>
<text x="601.06" y="1874.80" font-size="27">0.60</text>
<text x="194.80" y="1364.18" font-size="27">0.80</text>
<text x="718.78" y="1874.80" font-size="27">0.80</text>
<text x="194.80" y="1246.40" font-size="27">1.00</text>
<text x="836.00" y="1874.80" font-size="27">1.00</text>
<text x="496.00" y="1912.10" font-size="26.5" letter-spacing="0.033">1-Specificity</text>
<text transform="translate(166.30,1595.85) rotate(-90)" x="0" y="0" font-size="26.5" letter-spacing="0.400">Sensitivity</text>
<line x1="274.40" y1="1828.30" x2="863.00" y2="1239.40" stroke="#111" stroke-width="3.1" stroke-dasharray="3.0 2.65"/>
<polyline points="274.4,1828.3 276.5,1818.4 283.0,1815.1 289.4,1797.3 297.5,1789.2 313.7,1781.9 323.5,1764.9 334.8,1756.0 348.6,1747.9 357.5,1731.7 365.6,1729.3 376.9,1716.3 389.9,1698.5 401.2,1687.1 413.4,1662.8 427.1,1656.4 441.7,1632.1 462.0,1611.0 472.5,1589.9 491.1,1568.9 507.2,1541.3 523.1,1531.3 552.3,1512.7 588.2,1482.2 600.8,1462.3 636.0,1438.4 657.2,1435.1 691.5,1416.7 707.7,1413.3 721.3,1399.7 736.2,1389.6 747.0,1370.6 760.5,1359.1 770.0,1342.8 787.6,1330.6 799.8,1319.8 809.3,1306.3 820.1,1286.0 832.3,1272.4 841.8,1260.9 851.3,1256.8 855.4,1252.1 858.1,1245.3 863.0,1239.4" fill="none" stroke="#6e4e22" stroke-width="2.9" stroke-dasharray="8.5 2.9" stroke-linejoin="round"/>
<polyline points="274.4,1828.3 273.6,1786.0 275.7,1774.6 276.5,1755.2 278.1,1745.5 279.7,1739.0 281.3,1726.0 283.8,1722.8 289.4,1717.9 290.2,1706.6 294.3,1700.9 296.7,1692.0 301.6,1688.8 304.8,1680.7 308.9,1679.0 310.5,1670.9 314.5,1667.7 318.6,1663.6 321.8,1654.7 327.5,1653.9 329.9,1647.9 335.6,1644.2 344.5,1643.4 349.4,1637.7 357.5,1635.3 359.1,1628.0 367.2,1624.0 370.4,1620.7 376.1,1619.9 378.5,1615.9 385.0,1615.0 389.9,1610.2 402.8,1608.9 404.5,1600.0 410.9,1598.0 413.4,1591.6 420.7,1589.1 427.9,1585.9 432.0,1583.5 438.5,1577.3 444.1,1577.0 452.2,1572.9 453.1,1566.4 461.2,1564.8 462.8,1559.2 469.3,1555.9 470.9,1551.1 474.9,1546.2 476.5,1539.4 485.3,1539.3 485.9,1533.3 489.9,1530.0 496.6,1527.3 498.5,1521.4 499.2,1510.1 503.9,1508.7 505.2,1504.8 514.5,1504.8 517.8,1499.4 525.1,1498.1 528.4,1492.1 533.1,1488.8 539.0,1486.2 541.7,1479.5 548.3,1476.2 549.0,1467.6 553.0,1466.9 556.3,1459.0 562.3,1453.0 562.9,1447.0 568.2,1443.0 578.9,1441.0 582.2,1436.4 589.5,1434.4 594.8,1433.7 596.1,1430.4 601.4,1428.4 604.1,1425.1 608.7,1421.1 614.1,1421.1 617.4,1417.8 618.0,1411.2 623.3,1406.5 628.7,1405.8 630.6,1403.2 631.3,1397.9 636.0,1393.9 642.6,1390.6 647.9,1387.3 652.9,1379.4 660.3,1374.0 661.0,1368.6 665.1,1364.5 667.8,1361.8 676.6,1360.4 683.3,1353.0 686.1,1347.6 690.8,1346.2 698.9,1346.2 701.6,1341.5 709.1,1338.8 710.4,1335.4 718.6,1334.0 720.6,1329.3 724.7,1328.6 726.0,1321.2 729.4,1319.8 734.8,1315.1 740.9,1313.7 745.0,1313.7 747.0,1309.0 751.1,1306.9 759.9,1306.9 762.6,1303.6 767.3,1301.5 772.7,1301.5 774.1,1298.1 783.6,1298.1 787.6,1296.8 789.7,1289.3 793.1,1287.3 797.1,1286.6 797.8,1283.2 804.6,1281.9 806.6,1279.2 812.0,1277.1 816.1,1273.8 821.5,1271.1 822.9,1264.3 826.2,1261.6 828.9,1256.2 836.4,1255.5 839.8,1254.1 840.5,1249.4 845.9,1249.4 849.9,1248.0 851.3,1243.3 855.4,1241.9 856.7,1239.2 863.0,1239.4" fill="none" stroke="#315d92" stroke-width="2.8" stroke-linejoin="round"/>
<line x1="375.40" y1="1773.90" x2="415.80" y2="1773.90" stroke="#315d92" stroke-width="2.7" stroke-linecap="butt"/>
<line x1="375.40" y1="1803.5" x2="415.80" y2="1803.5" stroke="#6e4e22" stroke-width="2.9" stroke-dasharray="8.5 2.9"/>
<text x="426.10" y="1779.80" font-size="26.5">LensAge index for diffuse-light mode</text>
<text x="426.20" y="1809.70" font-size="26.5">Chronological age</text>
<text x="1132.50" y="1166.30" font-size="26.5">d</text>
<line x1="1296.10" y1="1223.40" x2="1296.10" y2="1829.80" stroke="#a6a8ab" stroke-width="2.9" stroke-dasharray="2.9 2.8"/>
<line x1="1299.90" y1="1828.30" x2="1902.40" y2="1828.30" stroke="#a6a8ab" stroke-width="2.9" stroke-dasharray="2.9 2.8"/>
<line x1="1413.86" y1="1223.40" x2="1413.86" y2="1829.80" stroke="#a6a8ab" stroke-width="2.9" stroke-dasharray="2.9 2.8"/>
<line x1="1299.90" y1="1710.52" x2="1902.40" y2="1710.52" stroke="#a6a8ab" stroke-width="2.9" stroke-dasharray="2.9 2.8"/>
<line x1="1531.62" y1="1223.40" x2="1531.62" y2="1829.80" stroke="#a6a8ab" stroke-width="2.9" stroke-dasharray="2.9 2.8"/>
<line x1="1299.90" y1="1592.74" x2="1902.40" y2="1592.74" stroke="#a6a8ab" stroke-width="2.9" stroke-dasharray="2.9 2.8"/>
<line x1="1649.38" y1="1223.40" x2="1649.38" y2="1829.80" stroke="#a6a8ab" stroke-width="2.9" stroke-dasharray="2.9 2.8"/>
<line x1="1299.90" y1="1474.96" x2="1902.40" y2="1474.96" stroke="#a6a8ab" stroke-width="2.9" stroke-dasharray="2.9 2.8"/>
<line x1="1767.14" y1="1223.40" x2="1767.14" y2="1829.80" stroke="#a6a8ab" stroke-width="2.9" stroke-dasharray="2.9 2.8"/>
<line x1="1299.90" y1="1357.18" x2="1902.40" y2="1357.18" stroke="#a6a8ab" stroke-width="2.9" stroke-dasharray="2.9 2.8"/>
<line x1="1884.90" y1="1223.40" x2="1884.90" y2="1829.80" stroke="#a6a8ab" stroke-width="2.9" stroke-dasharray="2.9 2.8"/>
<line x1="1299.90" y1="1239.40" x2="1902.40" y2="1239.40" stroke="#a6a8ab" stroke-width="2.9" stroke-dasharray="2.9 2.8"/>
<line x1="1278.00" y1="1828.30" x2="1296.10" y2="1828.30" stroke="#4d4d4f" stroke-width="2.5" stroke-linecap="butt"/>
<line x1="1296.10" y1="1846.30" x2="1296.10" y2="1831.30" stroke="#4d4d4f" stroke-width="2.5" stroke-linecap="butt"/>
<line x1="1278.00" y1="1798.86" x2="1287.00" y2="1798.86" stroke="#4d4d4f" stroke-width="2.5" stroke-linecap="butt"/>
<line x1="1325.54" y1="1846.30" x2="1325.54" y2="1837.50" stroke="#4d4d4f" stroke-width="2.5" stroke-linecap="butt"/>
<line x1="1278.00" y1="1769.41" x2="1287.00" y2="1769.41" stroke="#4d4d4f" stroke-width="2.5" stroke-linecap="butt"/>
<line x1="1354.98" y1="1846.30" x2="1354.98" y2="1837.50" stroke="#4d4d4f" stroke-width="2.5" stroke-linecap="butt"/>
<line x1="1278.00" y1="1739.96" x2="1287.00" y2="1739.96" stroke="#4d4d4f" stroke-width="2.5" stroke-linecap="butt"/>
<line x1="1384.42" y1="1846.30" x2="1384.42" y2="1837.50" stroke="#4d4d4f" stroke-width="2.5" stroke-linecap="butt"/>
<line x1="1278.00" y1="1710.52" x2="1296.10" y2="1710.52" stroke="#4d4d4f" stroke-width="2.5" stroke-linecap="butt"/>
<line x1="1413.86" y1="1846.30" x2="1413.86" y2="1831.30" stroke="#4d4d4f" stroke-width="2.5" stroke-linecap="butt"/>
<line x1="1278.00" y1="1681.08" x2="1287.00" y2="1681.08" stroke="#4d4d4f" stroke-width="2.5" stroke-linecap="butt"/>
<line x1="1443.30" y1="1846.30" x2="1443.30" y2="1837.50" stroke="#4d4d4f" stroke-width="2.5" stroke-linecap="butt"/>
<line x1="1278.00" y1="1651.63" x2="1287.00" y2="1651.63" stroke="#4d4d4f" stroke-width="2.5" stroke-linecap="butt"/>
<line x1="1472.74" y1="1846.30" x2="1472.74" y2="1837.50" stroke="#4d4d4f" stroke-width="2.5" stroke-linecap="butt"/>
<line x1="1278.00" y1="1622.18" x2="1287.00" y2="1622.18" stroke="#4d4d4f" stroke-width="2.5" stroke-linecap="butt"/>
<line x1="1502.18" y1="1846.30" x2="1502.18" y2="1837.50" stroke="#4d4d4f" stroke-width="2.5" stroke-linecap="butt"/>
<line x1="1278.00" y1="1592.74" x2="1296.10" y2="1592.74" stroke="#4d4d4f" stroke-width="2.5" stroke-linecap="butt"/>
<line x1="1531.62" y1="1846.30" x2="1531.62" y2="1831.30" stroke="#4d4d4f" stroke-width="2.5" stroke-linecap="butt"/>
<line x1="1278.00" y1="1563.30" x2="1287.00" y2="1563.30" stroke="#4d4d4f" stroke-width="2.5" stroke-linecap="butt"/>
<line x1="1561.06" y1="1846.30" x2="1561.06" y2="1837.50" stroke="#4d4d4f" stroke-width="2.5" stroke-linecap="butt"/>
<line x1="1278.00" y1="1533.85" x2="1287.00" y2="1533.85" stroke="#4d4d4f" stroke-width="2.5" stroke-linecap="butt"/>
<line x1="1590.50" y1="1846.30" x2="1590.50" y2="1837.50" stroke="#4d4d4f" stroke-width="2.5" stroke-linecap="butt"/>
<line x1="1278.00" y1="1504.40" x2="1287.00" y2="1504.40" stroke="#4d4d4f" stroke-width="2.5" stroke-linecap="butt"/>
<line x1="1619.94" y1="1846.30" x2="1619.94" y2="1837.50" stroke="#4d4d4f" stroke-width="2.5" stroke-linecap="butt"/>
<line x1="1278.00" y1="1474.96" x2="1296.10" y2="1474.96" stroke="#4d4d4f" stroke-width="2.5" stroke-linecap="butt"/>
<line x1="1649.38" y1="1846.30" x2="1649.38" y2="1831.30" stroke="#4d4d4f" stroke-width="2.5" stroke-linecap="butt"/>
<line x1="1278.00" y1="1445.52" x2="1287.00" y2="1445.52" stroke="#4d4d4f" stroke-width="2.5" stroke-linecap="butt"/>
<line x1="1678.82" y1="1846.30" x2="1678.82" y2="1837.50" stroke="#4d4d4f" stroke-width="2.5" stroke-linecap="butt"/>
<line x1="1278.00" y1="1416.07" x2="1287.00" y2="1416.07" stroke="#4d4d4f" stroke-width="2.5" stroke-linecap="butt"/>
<line x1="1708.26" y1="1846.30" x2="1708.26" y2="1837.50" stroke="#4d4d4f" stroke-width="2.5" stroke-linecap="butt"/>
<line x1="1278.00" y1="1386.62" x2="1287.00" y2="1386.62" stroke="#4d4d4f" stroke-width="2.5" stroke-linecap="butt"/>
<line x1="1737.70" y1="1846.30" x2="1737.70" y2="1837.50" stroke="#4d4d4f" stroke-width="2.5" stroke-linecap="butt"/>
<line x1="1278.00" y1="1357.18" x2="1296.10" y2="1357.18" stroke="#4d4d4f" stroke-width="2.5" stroke-linecap="butt"/>
<line x1="1767.14" y1="1846.30" x2="1767.14" y2="1831.30" stroke="#4d4d4f" stroke-width="2.5" stroke-linecap="butt"/>
<line x1="1278.00" y1="1327.74" x2="1287.00" y2="1327.74" stroke="#4d4d4f" stroke-width="2.5" stroke-linecap="butt"/>
<line x1="1796.58" y1="1846.30" x2="1796.58" y2="1837.50" stroke="#4d4d4f" stroke-width="2.5" stroke-linecap="butt"/>
<line x1="1278.00" y1="1298.29" x2="1287.00" y2="1298.29" stroke="#4d4d4f" stroke-width="2.5" stroke-linecap="butt"/>
<line x1="1826.02" y1="1846.30" x2="1826.02" y2="1837.50" stroke="#4d4d4f" stroke-width="2.5" stroke-linecap="butt"/>
<line x1="1278.00" y1="1268.85" x2="1287.00" y2="1268.85" stroke="#4d4d4f" stroke-width="2.5" stroke-linecap="butt"/>
<line x1="1855.46" y1="1846.30" x2="1855.46" y2="1837.50" stroke="#4d4d4f" stroke-width="2.5" stroke-linecap="butt"/>
<line x1="1278.00" y1="1239.40" x2="1296.10" y2="1239.40" stroke="#4d4d4f" stroke-width="2.5" stroke-linecap="butt"/>
<line x1="1884.90" y1="1846.30" x2="1884.90" y2="1831.30" stroke="#4d4d4f" stroke-width="2.5" stroke-linecap="butt"/>
<path d="M1278.00,1221.40 L1278.00,1846.30 L1903.40,1846.30" fill="none" stroke="#231f20" stroke-width="2.5" stroke-linejoin="round"/>
<text x="1215.60" y="1835.30" font-size="27">0.00</text>
<text x="1269.60" y="1874.80" font-size="27">0.00</text>
<text x="1215.60" y="1717.52" font-size="27">0.20</text>
<text x="1387.36" y="1874.80" font-size="27">0.20</text>
<text x="1215.60" y="1599.74" font-size="27">0.40</text>
<text x="1505.12" y="1874.80" font-size="27">0.40</text>
<text x="1215.60" y="1481.96" font-size="27">0.60</text>
<text x="1622.88" y="1874.80" font-size="27">0.60</text>
<text x="1215.60" y="1364.18" font-size="27">0.80</text>
<text x="1740.64" y="1874.80" font-size="27">0.80</text>
<text x="1215.60" y="1246.40" font-size="27">1.00</text>
<text x="1857.90" y="1874.80" font-size="27">1.00</text>
<text x="1517.80" y="1912.10" font-size="26.5" letter-spacing="0.033">1-Specificity</text>
<text transform="translate(1189.00,1595.85) rotate(-90)" x="0" y="0" font-size="26.5" letter-spacing="0.400">Sensitivity</text>
<line x1="1296.10" y1="1828.30" x2="1884.90" y2="1239.40" stroke="#111" stroke-width="3.1" stroke-dasharray="3.0 2.65"/>
<polyline points="1296.1,1828.3 1298.5,1824.8 1306.6,1811.9 1316.3,1805.4 1326.0,1797.3 1335.7,1778.7 1345.5,1766.5 1364.9,1742.2 1376.2,1732.5 1389.2,1717.1 1405.4,1701.7 1415.1,1687.1 1426.5,1675.8 1437.8,1658.0 1452.4,1646.6 1470.2,1633.7 1499.4,1607.8 1515.6,1598.8 1531.8,1588.3 1550.4,1567.8 1563.7,1559.2 1587.6,1537.3 1607.5,1528.7 1628.7,1513.4 1642.0,1488.2 1654.0,1475.5 1664.6,1462.9 1680.5,1445.0 1696.5,1425.8 1702.6,1407.2 1716.2,1403.8 1733.8,1384.1 1748.7,1371.3 1760.9,1352.3 1777.1,1344.2 1789.3,1341.5 1798.8,1325.2 1819.1,1310.3 1827.2,1298.1 1838.1,1292.7 1843.5,1281.9 1857.0,1271.7 1861.1,1262.2 1874.7,1252.1 1884.9,1239.4" fill="none" stroke="#6e4e22" stroke-width="2.9" stroke-dasharray="8.5 2.9" stroke-linejoin="round"/>
<polyline points="1296.1,1828.3 1296.0,1763.3 1297.7,1760.0 1297.7,1739.0 1300.9,1734.9 1300.9,1730.9 1305.0,1730.1 1308.2,1722.8 1312.2,1717.9 1316.3,1715.5 1317.9,1708.2 1322.8,1705.8 1327.6,1699.3 1330.1,1697.7 1334.1,1696.9 1336.5,1695.2 1341.4,1695.2 1345.5,1690.4 1351.9,1678.2 1360.0,1677.4 1365.7,1672.6 1371.4,1665.3 1377.0,1664.5 1379.5,1659.6 1386.0,1659.6 1390.8,1655.5 1394.9,1647.4 1399.7,1645.0 1403.0,1637.7 1407.0,1636.9 1416.7,1629.6 1420.8,1625.6 1425.6,1623.1 1430.5,1616.7 1435.4,1615.0 1437.0,1610.2 1441.0,1607.8 1444.3,1602.9 1452.4,1602.1 1457.2,1599.7 1463.7,1596.4 1466.1,1595.6 1467.8,1587.5 1471.8,1585.1 1473.4,1577.0 1476.7,1572.1 1482.3,1569.7 1484.8,1566.4 1490.4,1564.8 1493.7,1560.0 1499.4,1560.0 1501.8,1557.5 1507.5,1556.7 1513.2,1555.9 1516.6,1551.9 1517.2,1545.9 1523.9,1542.6 1527.2,1537.3 1530.5,1529.3 1533.2,1525.3 1533.8,1518.7 1537.8,1514.7 1546.4,1514.7 1547.8,1511.4 1554.4,1508.1 1557.1,1504.1 1557.1,1500.1 1559.7,1497.5 1561.0,1491.5 1567.7,1484.2 1571.7,1484.2 1574.3,1481.5 1579.6,1477.5 1584.3,1476.2 1584.9,1470.9 1591.6,1467.6 1598.2,1465.6 1602.2,1461.6 1607.5,1459.6 1611.5,1452.3 1615.5,1449.7 1616.1,1445.7 1622.1,1445.7 1626.1,1443.7 1631.4,1442.4 1632.7,1435.7 1638.0,1435.1 1642.0,1429.1 1646.7,1423.1 1650.0,1420.5 1651.3,1409.8 1659.3,1409.8 1660.0,1403.9 1663.3,1402.5 1669.9,1401.2 1671.2,1396.6 1679.2,1393.2 1679.2,1388.6 1683.0,1388.2 1684.3,1382.8 1689.1,1377.4 1694.5,1375.3 1697.9,1369.9 1702.6,1369.3 1704.0,1364.5 1712.1,1362.5 1712.8,1353.7 1716.2,1351.6 1719.6,1346.9 1727.0,1344.2 1732.4,1342.8 1734.5,1338.8 1736.5,1330.6 1745.3,1330.6 1746.0,1328.6 1752.7,1326.6 1755.5,1324.6 1759.5,1323.9 1760.2,1319.8 1764.3,1318.5 1765.6,1315.1 1773.1,1315.1 1776.5,1312.4 1781.2,1311.0 1782.5,1308.3 1788.6,1304.9 1790.0,1301.5 1792.7,1300.8 1793.4,1296.1 1802.9,1296.1 1809.0,1294.1 1811.0,1290.0 1818.4,1288.7 1821.1,1280.5 1823.9,1278.5 1824.5,1274.4 1827.2,1271.7 1832.0,1271.1 1838.1,1266.3 1842.1,1265.0 1843.5,1260.2 1848.9,1259.5 1852.3,1254.8 1857.7,1249.4 1861.8,1248.0 1864.5,1241.9 1869.2,1241.3 1869.9,1239.2 1884.9,1239.4" fill="none" stroke="#2e7d72" stroke-width="2.8" stroke-linejoin="round"/>
<line x1="1434.00" y1="1773.90" x2="1474.40" y2="1773.90" stroke="#2e7d72" stroke-width="2.7" stroke-linecap="butt"/>
<line x1="1434.00" y1="1803.5" x2="1474.40" y2="1803.5" stroke="#6e4e22" stroke-width="2.9" stroke-dasharray="8.5 2.9"/>
<text x="1483.70" y="1779.80" font-size="26.5">LensAge index for slit-lamp mode</text>
<text x="1483.80" y="1809.70" font-size="26.5">Chronological age</text>
</svg>
</body></html>
